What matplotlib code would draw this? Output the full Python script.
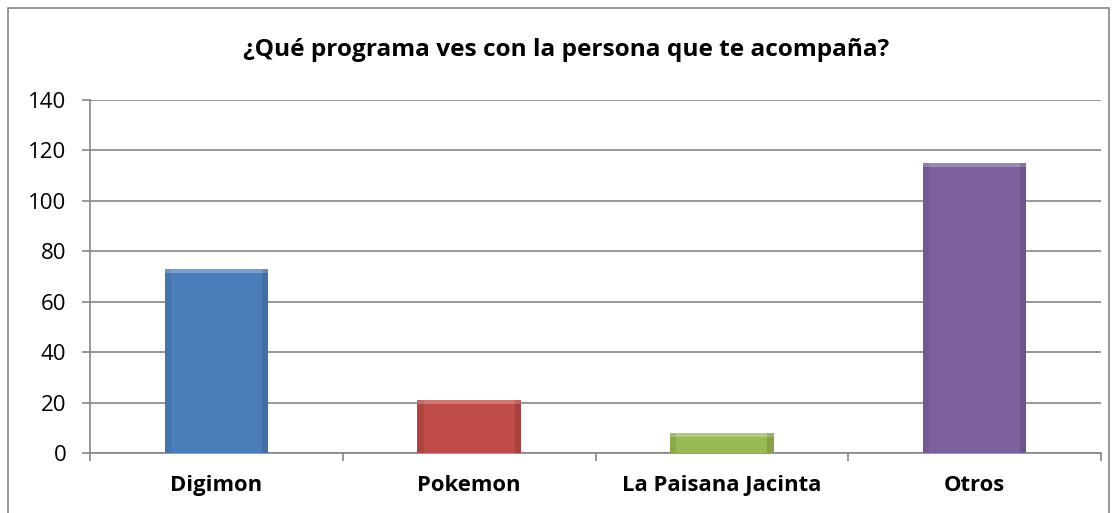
import numpy as np
import matplotlib.pyplot as plt
from matplotlib.patches import Rectangle

categories = ['Digimon', 'Pokemon', 'La Paisana Jacinta', 'Otros']
values = [73, 21, 8, 115]
colors = ['#4A7EBB', '#BE4B48', '#98B954', '#7D60A0']
yticks = [0, 20, 40, 60, 80, 100, 120, 140]
title = '¿Qué programa ves con la persona que te acompaña?'

plt.rcParams['font.family'] = ['Open Sans', 'DejaVu Sans']

fig = plt.figure(figsize=(11.18, 5.13), dpi=100)
ax = fig.add_axes([90 / 1118, 1 - 453 / 513, 1011 / 1118, 353 / 513])

x = np.arange(len(categories))
bars = ax.bar(x, values, width=0.41, color=colors, edgecolor='none', zorder=3)

# light bevel strip along the top of each bar
for b, c in zip(bars, colors):
    h = b.get_height()
    ax.add_patch(Rectangle((b.get_x(), h - 1.6), b.get_width(), 1.6,
                           facecolor='white', alpha=0.25, edgecolor='none', zorder=4))
    ax.add_patch(Rectangle((b.get_x(), 0), b.get_width() * 0.06, h,
                           facecolor='black', alpha=0.08, edgecolor='none', zorder=4))
    ax.add_patch(Rectangle((b.get_x() + b.get_width() * 0.94, 0), b.get_width() * 0.06, h,
                           facecolor='black', alpha=0.12, edgecolor='none', zorder=4))

ax.set_xlim(-0.5, len(categories) - 0.5)
ax.set_ylim(0, 140)
ax.set_yticks(yticks)
ax.set_yticklabels([str(t) for t in yticks], fontsize=16)
ax.yaxis.grid(True, color='#868686', linewidth=1.2, zorder=0)

ax.set_xticks(x)
ax.set_xticklabels(categories, fontsize=15.8, fontweight='bold')
ax.tick_params(axis='x', length=0, pad=16)
ax.set_xticks(np.arange(-0.5, len(categories)), minor=True)
ax.tick_params(axis='x', which='minor', length=6, color='#868686', width=1.2)
ax.tick_params(axis='y', length=6, color='#868686', width=1.2, pad=11)

for s in ['top', 'right']:
    ax.spines[s].set_visible(False)
ax.spines['left'].set_color('#868686')
ax.spines['bottom'].set_color('#868686')
ax.spines['left'].set_linewidth(1.2)
ax.spines['bottom'].set_linewidth(1.2)

fig.text(566 / 1118, 1 - 50 / 513, title, ha='center', va='center',
         fontsize=17.6, fontweight='bold')

# outer chart border
fig.add_artist(Rectangle((8 / 1118, -0.05), 1101 / 1118, 1 - 8 / 513 + 0.05,
                         transform=fig.transFigure, fill=False,
                         edgecolor='#868686', linewidth=1.2))

fig.savefig('out.png', dpi=100)
